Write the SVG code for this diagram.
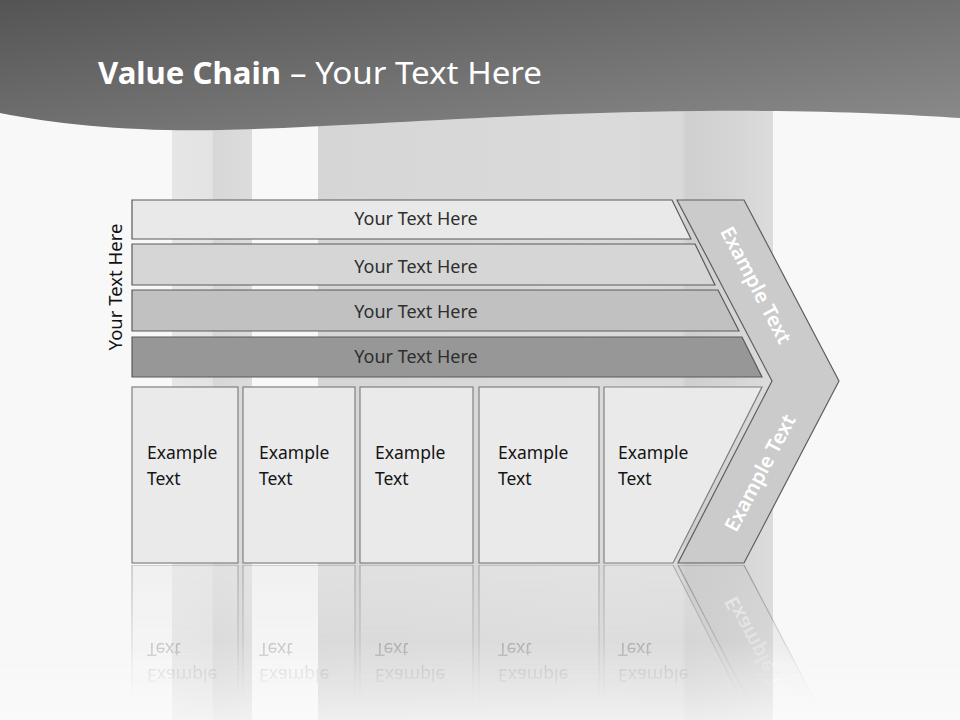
<svg xmlns="http://www.w3.org/2000/svg" xmlns:xlink="http://www.w3.org/1999/xlink" width="960" height="720" viewBox="0 0 960 720">
<defs>
<linearGradient id="hdr" x1="0" y1="0" x2="1" y2="1">
<stop offset="0" stop-color="#545454"/>
<stop offset="1" stop-color="#8c8c8c"/>
</linearGradient>
<linearGradient id="p1" x1="0" y1="0" x2="1" y2="0">
<stop offset="0" stop-color="#e6e6e6"/>
<stop offset="0.5" stop-color="#e3e3e3"/>
<stop offset="0.52" stop-color="#d7d7d7"/>
<stop offset="1" stop-color="#dcdcdc"/>
</linearGradient>
<linearGradient id="p2" x1="0" y1="0" x2="1" y2="0">
<stop offset="0" stop-color="#d6d6d6"/>
<stop offset="0.6" stop-color="#dadada"/>
<stop offset="0.8" stop-color="#d9d9d9"/>
<stop offset="0.81" stop-color="#cfcfcf"/>
<stop offset="0.9" stop-color="#d4d4d4"/>
<stop offset="1" stop-color="#dcdcdc"/>
</linearGradient>
<linearGradient id="fadeG" x1="0" y1="565" x2="0" y2="705" gradientUnits="userSpaceOnUse">
<stop offset="0" stop-color="#fff" stop-opacity="0.75"/>
<stop offset="1" stop-color="#fff" stop-opacity="0"/>
</linearGradient>
<mask id="fade" maskUnits="userSpaceOnUse" x="0" y="560" width="960" height="160">
<rect x="0" y="565" width="960" height="155" fill="url(#fadeG)"/>
</mask>
<linearGradient id="fog" x1="0" y1="0" x2="0" y2="1">
<stop offset="0" stop-color="#fafafa" stop-opacity="0"/>
<stop offset="1" stop-color="#fafafa" stop-opacity="0.7"/>
</linearGradient>
<style>
.bar{stroke:#5a5a5a;stroke-width:1.2}
.bt{font-family:"Noto Sans","Open Sans",sans-serif;font-size:18px;fill:#2e2e2e;text-anchor:middle}
.box{fill:#eaeaea;stroke:#808080;stroke-width:1.2}
.ex{font-family:"Noto Sans","Open Sans",sans-serif;font-size:17.5px;fill:#141414}
.ct{font-family:"Noto Sans","Open Sans",sans-serif;font-size:20px;font-weight:600;fill:#ffffff;text-anchor:middle}
</style>
</defs>

<rect x="0" y="0" width="960" height="720" fill="#f8f8f8"/>

<g id="background">
<rect x="172" y="100" width="80" height="620" fill="url(#p1)"/>
<rect x="318" y="100" width="455" height="620" fill="url(#p2)"/>
<path d="M0,113 C60,125 140,132 220,130 C350,127 500,113 700,111 C820,110 900,114 960,118 V0 H0 Z" fill="url(#hdr)"/>
<text x="98" y="84" font-family="Noto Sans, Open Sans, sans-serif" font-size="30" font-weight="bold" fill="#ffffff" textLength="183" lengthAdjust="spacingAndGlyphs">Value Chain</text>
<text x="290" y="84" font-family="Noto Sans, Open Sans, sans-serif" font-size="30" fill="#ffffff" textLength="252" lengthAdjust="spacingAndGlyphs">– Your Text Here</text>
</g>

<g id="side-label">
<text transform="translate(122,287) rotate(-90)" x="0" y="0" font-family="Noto Sans, Open Sans, sans-serif" font-size="18.5" fill="#111" text-anchor="middle">Your Text Here</text>
</g>

<g id="row1"><polygon class="bar" points="132,200 672,200 691,239 132,239" fill="#e9e9e9"/><text class="bt" x="416" y="225">Your Text Here</text></g>
<g id="row2"><polygon class="bar" points="132,244 695,244 715,285 132,285" fill="#d6d6d6"/><text class="bt" x="416" y="273">Your Text Here</text></g>
<g id="row3"><polygon class="bar" points="132,290 718,290 739,331 132,331" fill="#c1c1c1"/><text class="bt" x="416" y="318">Your Text Here</text></g>
<g id="row4"><polygon class="bar" points="132,337 742,337 762,377 132,377" fill="#979797"/><text class="bt" x="416" y="363">Your Text Here</text></g>

<g id="chevron">
<polygon points="677,200 744,200 839,381 744,563 678,563 772,381" fill="#cbcbcb" stroke="#5f5f5f" stroke-width="1.2"/>
<text class="ct" transform="translate(756,285) rotate(62.3)" dy="7">Example Text</text>
<text class="ct" transform="translate(760,473) rotate(-62.3)" dy="7">Example Text</text>
</g>

<g id="bottomRow">
<g id="box1"><rect class="box" x="132" y="387" width="106" height="176"/><text class="ex" x="147" y="459">Example</text><text class="ex" x="147" y="485">Text</text></g>
<g id="box2"><rect class="box" x="243" y="387" width="112" height="176"/><text class="ex" x="259" y="459">Example</text><text class="ex" x="259" y="485">Text</text></g>
<g id="box3"><rect class="box" x="360" y="387" width="113" height="176"/><text class="ex" x="375" y="459">Example</text><text class="ex" x="375" y="485">Text</text></g>
<g id="box4"><rect class="box" x="479" y="387" width="120" height="176"/><text class="ex" x="498" y="459">Example</text><text class="ex" x="498" y="485">Text</text></g>
<g id="box5"><polygon class="box" points="604,387 762,387 673,563 604,563"/><text class="ex" x="618" y="459">Example</text><text class="ex" x="618" y="485">Text</text></g>
</g>

<g id="reflection" mask="url(#fade)" opacity="0.7">
<use xlink:href="#bottomRow" transform="translate(0,1128) scale(1,-1)"/>
<use xlink:href="#chevron" transform="translate(0,1128) scale(1,-1)"/>
</g>

<rect x="0" y="640" width="960" height="80" fill="url(#fog)"/>
</svg>
